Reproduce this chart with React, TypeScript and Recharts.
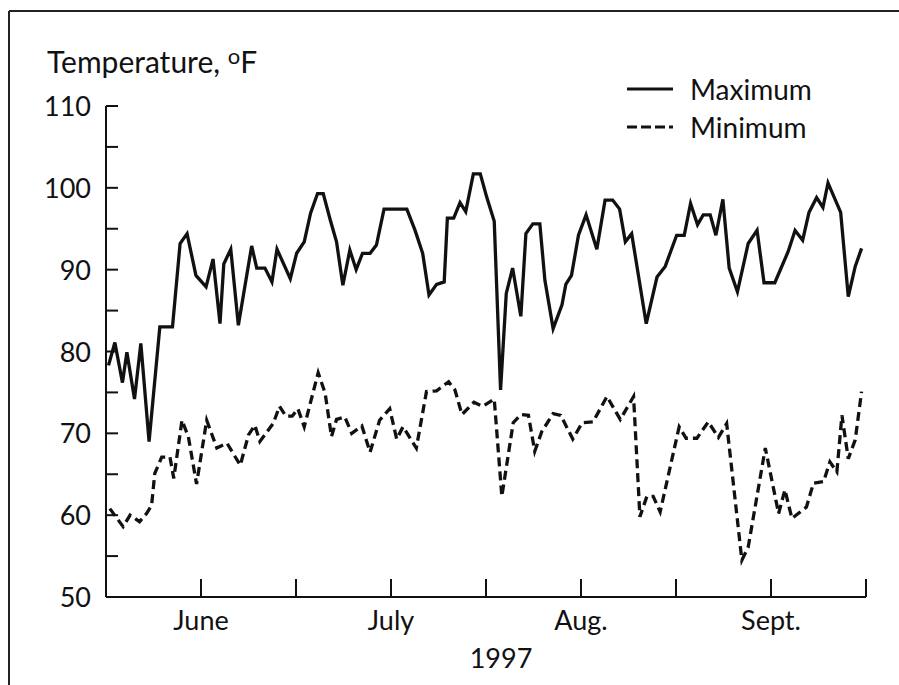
import { LineChart, Line, XAxis, YAxis, Legend } from "recharts";

// days counted from the left end of the time axis (about mid-May 1997)
const maxDays = [
  0.4, 1.4, 2.6, 3.3, 4.5, 5.5, 6.8, 8.5, 10.5, 11.7, 12.8, 14.2, 15.8, 16.9, 18.0, 18.6, 19.7, 20.9,
  23.0, 23.8, 25.1, 26.2, 27.0, 29.1, 30.1, 31.3, 32.3, 33.4, 34.3, 35.4, 36.4, 37.4, 38.5, 39.5,
  40.5, 41.7, 42.7, 43.9, 47.5, 48.8, 50.0, 51.0, 52.2, 53.4, 53.9, 54.9, 55.9, 56.8, 58.0, 59.1,
  60.1, 61.3, 62.3, 63.2, 64.2, 65.5, 66.3, 67.4, 68.5, 69.3, 70.6, 72.0, 72.6, 73.5, 74.6, 75.8,
  77.5, 78.8, 80.0, 81.1, 82.0, 83.0, 85.3, 87.0, 88.3, 90.1, 91.3, 92.3, 93.4, 94.3, 95.4, 96.3,
  97.4, 98.4, 99.7, 101.4, 102.8, 103.9, 105.6, 107.7, 108.8, 110.0, 111.0, 112.2, 113.2, 114.0,
  116.0, 117.2, 118.3, 119.3,
];
const maxTemps = [
  78.3, 81.1, 76.2, 79.9, 74.2, 81.0, 69.0, 83.0, 83.0, 93.2, 94.4, 89.3, 87.9, 91.3, 83.4, 90.7, 92.5, 83.2,
  92.9, 90.2, 90.2, 88.5, 92.5, 88.9, 92.0, 93.4, 96.9, 99.3, 99.3, 96.1, 93.4, 88.1, 92.4, 90.0,
  92.0, 92.0, 93.0, 97.4, 97.4, 94.8, 92.0, 86.9, 88.2, 88.5, 96.3, 96.3, 98.2, 97.1, 101.7, 101.7,
  98.9, 95.9, 75.3, 87.1, 90.2, 84.3, 94.4, 95.6, 95.6, 88.7, 82.8, 85.7, 88.2, 89.3, 94.2, 96.7,
  92.5, 98.5, 98.5, 97.4, 93.4, 94.4, 83.4, 89.1, 90.4, 94.2, 94.2, 98.1, 95.5, 96.7, 96.7, 94.2,
  98.6, 90.2, 87.3, 93.2, 94.8, 88.4, 88.4, 92.2, 94.8, 93.6, 97.0, 98.8, 97.6, 100.6,
  97.0, 86.7, 90.4, 92.6,
];

const minDays = [
  0.6, 2.7, 3.8, 5.3, 6.4, 7.2, 7.7, 8.8, 10.1, 10.7, 12.0, 13.0, 14.3, 15.9, 17.5, 19.1, 21.2, 22.5,
  23.5, 24.3, 26.4, 27.4, 28.4, 29.4, 30.3, 31.3, 33.5, 34.6, 35.6, 36.4, 37.7, 38.8, 40.4, 41.7,
  43.2, 44.8, 45.9, 46.9, 49.0, 50.6, 52.2, 54.1, 55.1, 56.2, 58.1, 59.5, 61.3, 62.5, 64.3, 65.5,
  66.7, 67.7, 68.8, 70.6, 71.8, 73.7, 75.2, 76.9, 79.1, 81.2, 83.3, 84.3, 85.4, 86.4, 87.5, 90.5,
  91.6, 93.3, 95.1, 96.7, 98.0, 100.4, 101.4, 104.1, 106.2, 107.2, 108.3, 110.6, 111.7, 113.3,
  114.3, 115.4, 116.2, 117.2, 118.3, 119.3,
];
const minTemps = [
  60.8, 58.6, 60.0, 59.2, 60.2, 61.2, 65.1, 67.1, 67.1, 64.5, 71.6, 69.6, 63.8, 71.6, 68.2, 68.8, 66.1, 69.8,
  71.0, 69.0, 71.2, 73.3, 72.1, 72.1, 73.0, 70.8, 77.4, 74.9, 69.6, 71.7, 72.0, 70.0, 70.9, 67.7,
  71.6, 73.0, 69.3, 70.8, 68.2, 75.1, 75.2, 76.3, 75.3, 72.3, 73.8, 73.3, 74.2, 62.3, 71.3, 72.3,
  72.2, 67.8, 70.2, 72.4, 72.2, 69.3, 71.3, 71.4, 74.5, 71.7, 74.5, 59.8, 62.3, 62.3, 60.4, 70.8,
  69.4, 69.4, 71.4, 69.5, 71.2, 54.5, 56.1, 68.2, 60.2, 63.1, 59.6, 61.0, 63.9, 64.1,
  66.5, 65.3, 72.2, 66.9, 69.2, 75.1,
];

const yTicks = [50, 55, 60, 65, 70, 75, 80, 85, 90, 95, 100, 105, 110];
const xTicks = [15, 30, 45, 60, 75, 90, 105, 120];
const monthDays = [15, 45, 75, 105];
const monthNames = ["June", "July", "Aug.", "Sept."];
const seriesNames = ["Maximum", "Minimum"];

const maxData = maxDays.map((day, i) => ({ day, temp: maxTemps[i] }));
const minData = minDays.map((day, i) => ({ day, temp: minTemps[i] }));

const FONT = "Lato, 'Open Sans', sans-serif";
const INK = "#111";

function YTick(props: any) {
  const { x, y, payload } = props;
  const v = payload.value as number;
  return (
    <g>
      <line x1={x} y1={y} x2={x + 12} y2={y} stroke={INK} strokeWidth={2} />
      {v % 10 === 0 && (
        <text x={x - 15} y={y + 10} textAnchor="end" fontSize={27} fontFamily={FONT} fill={INK}>
          {v}
        </text>
      )}
    </g>
  );
}

function XTick(props: any) {
  const { x, y, payload } = props;
  const idx = monthDays.indexOf(payload.value);
  return (
    <g>
      <line x1={x} y1={y} x2={x} y2={y - 18} stroke={INK} strokeWidth={2} />
      {idx >= 0 && (
        <text x={x} y={y + 33} textAnchor="middle" fontSize={27} fontFamily={FONT} fill={INK}>
          {monthNames[idx]}
        </text>
      )}
    </g>
  );
}

function LegendBox() {
  return (
    <svg width={260} height={80} style={{ overflow: "visible" }}>
      {seriesNames.map((name, i) => (
        <g key={name}>
          <line
            x1={2}
            y1={10 + i * 38}
            x2={48}
            y2={10 + i * 38}
            stroke={INK}
            strokeWidth={3.2}
            strokeDasharray={i === 1 ? "10 4" : undefined}
          />
          <text x={65} y={21 + i * 38} fontSize={28} fontFamily={FONT} fill={INK}>
            {name}
          </text>
        </g>
      ))}
    </svg>
  );
}

export default function App() {
  return (
    <div style={{ position: "absolute", left: 0, top: 0, width: 899, height: 685, background: "#fff", overflow: "hidden" }}>
      <svg width={899} height={685} style={{ position: "absolute", left: 0, top: 0 }}>
        {/* frame: only the top and left edges fall inside the picture */}
        <line x1={9} y1={11} x2={899} y2={11} stroke="#222" strokeWidth={2} />
        <line x1={9} y1={11} x2={9} y2={685} stroke="#222" strokeWidth={2} />
        <text x={47} y={73} fontSize={30} fontFamily={FONT} fill={INK}>
          Temperature,{" "}
          <tspan fontSize={22} dy={-9}>o</tspan>
          <tspan dy={9}>F</tspan>
        </text>
        <text x={501} y={668} textAnchor="middle" fontSize={27} fontFamily={FONT} fill={INK}>
          1997
        </text>
      </svg>
      <div style={{ position: "absolute", left: 0, top: 0 }}>
        <LineChart width={899} height={685} margin={{ top: 106, right: 33, bottom: 58, left: 46 }}>
          <XAxis
            type="number"
            dataKey="day"
            domain={[0, 120]}
            ticks={xTicks}
            allowDataOverflow
            height={30}
            tickSize={0}
            tickMargin={0}
            tickLine={false}
            tick={<XTick />}
            axisLine={{ stroke: INK, strokeWidth: 2 }}
            interval={0}
          />
          <YAxis
            type="number"
            domain={[50, 110]}
            ticks={yTicks}
            width={60}
            tickSize={0}
            tickMargin={0}
            tickLine={false}
            tick={<YTick />}
            axisLine={{ stroke: INK, strokeWidth: 2 }}
            interval={0}
          />
          <Legend
            layout="horizontal"
            verticalAlign="middle"
            align="center"
            wrapperStyle={{ position: "absolute", left: 625, top: 79, width: 260, height: 80 }}
            content={() => <LegendBox />}
          />
          <Line
            data={maxData}
            dataKey="temp"
            name="Maximum"
            type="linear"
            stroke={INK}
            strokeWidth={3.3}
            strokeLinejoin="miter"
            dot={false}
            activeDot={false}
            isAnimationActive={false}
          />
          <Line
            data={minData}
            dataKey="temp"
            name="Minimum"
            type="linear"
            stroke={INK}
            strokeWidth={3.3}
            strokeDasharray="9 5"
            dot={false}
            activeDot={false}
            isAnimationActive={false}
          />
        </LineChart>
      </div>
    </div>
  );
}
